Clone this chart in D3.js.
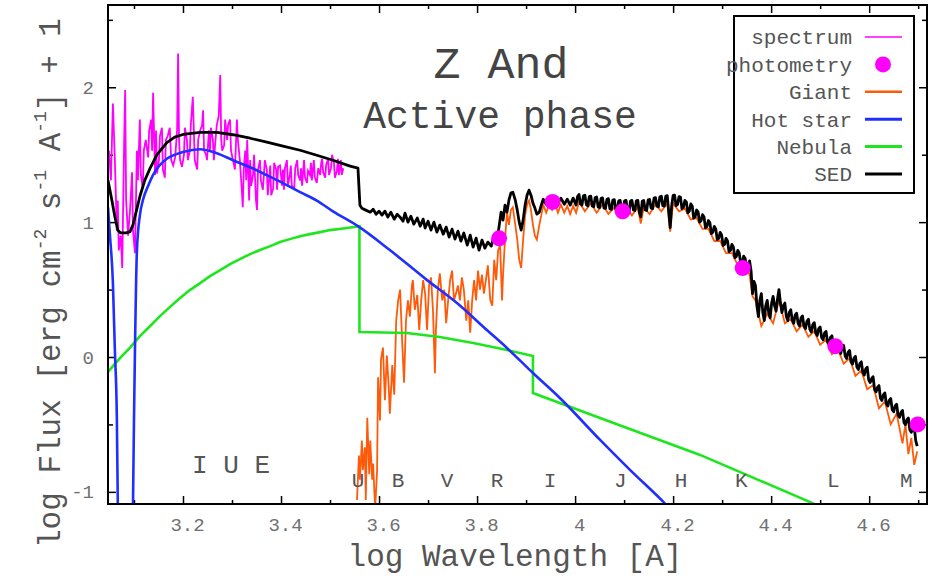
<!DOCTYPE html>
<html><head><meta charset="utf-8">
<script src="https://cdn.jsdelivr.net/npm/d3@7"></script>
<style>
body{margin:0;background:#fff}
svg{display:block}
text{font-family:"Liberation Mono","DejaVu Sans Mono",monospace}
</style>
</head><body>
<svg id="chart" width="935" height="585"></svg>
<script>
// ---------------- data ----------------
const xDomain = [3.047, 4.718];
const yDomain = [-1.09, 2.61];
const xTickValues = [3.2, 3.4, 3.6, 3.8, 4.0, 4.2, 4.4, 4.6];
const xTickLabels = ["3.2", "3.4", "3.6", "3.8", "4", "4.2", "4.4", "4.6"];
const xMinorTicks = [3.1, 3.3, 3.5, 3.7, 3.9, 4.1, 4.3, 4.5, 4.7];
const yTickValues = [-1, 0, 1, 2];
const yTickLabels = ["-1", "0", "1", "2"];
const yMinorTicks = [-0.5, 0.5, 1.5, 2.5];

const titleText = "Z And";
const subtitleText = "Active phase";
const xTitle = "log Wavelength [A]";

const bandNames = ["U", "B", "V", "R", "I", "J", "H", "K", "L", "M"];
const bandPos = [3.557, 3.639, 3.739, 3.841, 3.949, 4.092, 4.216, 4.339, 4.527, 4.676];
const iueLabel = "I U E";
const iuePos = 3.298;

const legendNames = ["spectrum", "photometry", "Giant", "Hot star", "Nebula", "SED"];

// photometry: [log lambda, log flux]
const photometry = [[3.845, 0.88], [3.954, 1.15], [4.097, 1.08], [4.342, 0.66], [4.531, 0.08], [4.699, -0.50]];

// IUE spectrum
const spectrum = [[3.049,1.53],[3.053,1.31],[3.057,1.88],[3.061,1.46],[3.065,0.94],[3.067,1.16],[3.069,0.79],[3.073,0.90],[3.076,0.66],[3.080,1.61],[3.082,1.98],[3.084,1.16],[3.088,0.90],[3.092,1.09],[3.096,1.37],[3.098,0.94],[3.102,0.77],[3.106,1.53],[3.108,1.31],[3.112,1.76],[3.114,1.35],[3.118,1.25],[3.120,1.53],[3.124,1.61],[3.129,1.48],[3.131,1.68],[3.135,1.76],[3.137,1.53],[3.139,1.96],[3.143,1.35],[3.145,1.68],[3.147,1.36],[3.151,1.46],[3.153,1.64],[3.157,1.70],[3.159,1.39],[3.163,1.33],[3.165,1.61],[3.169,1.64],[3.173,1.70],[3.176,1.46],[3.180,1.42],[3.184,1.48],[3.188,1.68],[3.190,2.25],[3.192,1.61],[3.194,1.46],[3.198,1.41],[3.202,1.50],[3.204,1.70],[3.208,1.61],[3.210,1.46],[3.214,1.53],[3.216,1.72],[3.220,1.93],[3.224,1.46],[3.229,1.39],[3.231,1.61],[3.235,1.68],[3.239,1.72],[3.241,1.83],[3.243,1.53],[3.247,1.50],[3.249,1.46],[3.253,1.68],[3.255,1.53],[3.257,1.70],[3.261,1.61],[3.263,1.46],[3.267,1.64],[3.269,1.72],[3.273,1.79],[3.276,2.09],[3.278,1.61],[3.280,1.53],[3.284,1.57],[3.286,1.76],[3.290,1.61],[3.292,1.72],[3.296,1.76],[3.298,1.53],[3.302,1.46],[3.306,1.39],[3.310,1.76],[3.312,1.61],[3.316,1.46],[3.320,1.24],[3.322,1.11],[3.324,1.39],[3.327,1.53],[3.329,1.31],[3.331,1.61],[3.335,1.16],[3.337,1.46],[3.339,1.27],[3.343,1.35],[3.345,1.50],[3.349,1.16],[3.351,1.09],[3.353,1.39],[3.357,1.46],[3.359,1.31],[3.363,1.24],[3.365,1.35],[3.367,1.46],[3.371,1.39],[3.373,1.20],[3.378,1.42],[3.380,1.20],[3.384,1.25],[3.386,1.44],[3.390,1.39],[3.392,1.24],[3.394,1.41],[3.398,1.42],[3.402,1.27],[3.404,1.39],[3.406,1.24],[3.408,1.40],[3.412,1.46],[3.414,1.27],[3.418,1.35],[3.420,1.42],[3.422,1.27],[3.427,1.25],[3.429,1.40],[3.433,1.46],[3.435,1.35],[3.439,1.31],[3.441,1.40],[3.443,1.27],[3.447,1.46],[3.449,1.33],[3.453,1.29],[3.455,1.38],[3.459,1.35],[3.461,1.44],[3.463,1.31],[3.467,1.46],[3.469,1.33],[3.473,1.29],[3.476,1.40],[3.480,1.35],[3.482,1.44],[3.484,1.47],[3.486,1.37],[3.490,1.33],[3.492,1.42],[3.496,1.47],[3.498,1.35],[3.502,1.40],[3.504,1.50],[3.508,1.44],[3.510,1.33],[3.514,1.38],[3.516,1.47],[3.518,1.35],[3.522,1.46],[3.524,1.35],[3.527,1.40]];

// hot star model
const hotStar = [[3.047,1.11],[3.051,0.90],[3.057,0.55],[3.061,0.05],[3.065,-0.44],[3.067,-1.09],[3.069,-1.6],[3.096,-1.6],[3.098,-1.09],[3.100,-0.47],[3.102,0.05],[3.106,0.79],[3.112,1.05],[3.118,1.16],[3.129,1.27],[3.139,1.35],[3.152,1.42],[3.167,1.47],[3.200,1.52],[3.235,1.54],[3.269,1.511],[3.302,1.459],[3.337,1.407],[3.371,1.348],[3.404,1.289],[3.439,1.222],[3.473,1.16],[3.506,1.08],[3.557,0.970],[3.622,0.793],[3.698,0.570],[3.759,0.400],[3.820,0.200],[3.861,0.067],[3.914,-0.119],[3.969,-0.304],[4.051,-0.615],[4.112,-0.837],[4.184,-1.089],[4.25,-1.35]];

// nebula model
const nebula = [[3.047,-0.11],[3.071,-0.01],[3.092,0.07],[3.112,0.155],[3.133,0.23],[3.153,0.303],[3.173,0.37],[3.194,0.437],[3.214,0.496],[3.235,0.548],[3.255,0.60],[3.276,0.644],[3.296,0.688],[3.316,0.726],[3.337,0.763],[3.357,0.793],[3.378,0.822],[3.398,0.852],[3.418,0.874],[3.439,0.896],[3.459,0.911],[3.480,0.926],[3.500,0.941],[3.531,0.955],[3.560,0.97],[3.560,0.185],[3.657,0.178],[3.724,0.148],[3.792,0.104],[3.861,0.052],[3.914,0.007],[3.914,-0.267],[4.051,-0.452],[4.255,-0.726],[4.488,-1.089],[4.60,-1.25]];

// cool giant model
const giant = [[3.555,-1.06],[3.559,-0.73],[3.561,-0.91],[3.565,-0.62],[3.567,-0.84],[3.571,-0.67],[3.573,-1.06],[3.576,-0.45],[3.580,-0.87],[3.582,-0.62],[3.586,-0.91],[3.588,-0.79],[3.592,-1.13],[3.596,-0.84],[3.598,-0.15],[3.602,-0.47],[3.604,-0.02],[3.608,0.07],[3.612,-0.32],[3.616,0.01],[3.620,-0.24],[3.622,-0.42],[3.627,-0.06],[3.631,-0.28],[3.635,0.27],[3.639,0.42],[3.643,0.50],[3.647,0.13],[3.651,-0.19],[3.655,0.27],[3.659,0.42],[3.663,0.30],[3.667,0.53],[3.669,0.57],[3.673,0.35],[3.678,0.46],[3.682,0.20],[3.686,0.42],[3.690,0.57],[3.694,0.47],[3.698,0.20],[3.702,0.53],[3.706,0.59],[3.710,0.35],[3.714,-0.12],[3.716,0.20],[3.720,0.50],[3.724,0.62],[3.729,0.42],[3.733,0.50],[3.737,0.25],[3.741,0.42],[3.745,0.57],[3.749,0.64],[3.753,0.42],[3.757,0.47],[3.761,0.53],[3.765,0.42],[3.769,0.59],[3.773,0.50],[3.778,0.27],[3.782,0.42],[3.786,0.18],[3.790,0.42],[3.794,0.57],[3.798,0.42],[3.802,0.64],[3.806,0.50],[3.810,0.61],[3.814,0.47],[3.818,0.57],[3.822,0.68],[3.827,0.42],[3.831,0.38],[3.835,0.72],[3.839,0.57],[3.843,0.79],[3.847,0.83],[3.851,0.42],[3.853,0.61],[3.857,0.87],[3.861,1.07],[3.865,0.98],[3.869,1.09],[3.873,1.11],[3.878,0.98],[3.882,0.87],[3.886,0.72],[3.890,0.66],[3.894,0.87],[3.898,1.05],[3.902,1.13],[3.906,1.16],[3.910,1.09],[3.914,0.98],[3.918,0.90],[3.922,0.87],[3.927,0.98],[3.931,1.05],[3.935,1.13],[3.941,1.07],[3.947,1.13],[3.953,1.09],[3.959,1.14],[3.965,1.07],[3.971,1.13],[3.978,1.07],[3.984,1.12],[3.990,1.06],[3.996,1.12],[4.002,1.07],
[4.008,1.15],[4.020,1.08],[4.032,1.14],[4.044,1.07],[4.056,1.13],[4.068,1.06],[4.080,1.11],[4.092,1.05],[4.104,1.11],[4.116,1.05],[4.128,1.11],[4.134,0.99],[4.140,1.11],[4.152,1.06],[4.164,1.13],[4.176,1.08],[4.188,1.14],[4.194,0.93],[4.200,1.14],[4.212,1.08],[4.224,1.10],[4.236,1.02],[4.248,1.03],[4.260,0.95],[4.272,0.95],[4.284,0.86],[4.296,0.86],[4.308,0.77],[4.320,0.77],[4.332,0.68],[4.344,0.69],[4.356,0.61],[4.362,0.45],[4.368,0.42],[4.380,0.23],[4.392,0.32],[4.404,0.25],[4.416,0.42],[4.428,0.25],[4.440,0.28],[4.452,0.19],[4.464,0.24],[4.476,0.15],[4.488,0.19],[4.500,0.09],[4.512,0.13],[4.524,0.02],[4.536,0.06],[4.548,-0.05],[4.560,-0.01],[4.572,-0.14],[4.584,-0.10],[4.596,-0.24],[4.608,-0.21],[4.620,-0.38],[4.632,-0.33],[4.644,-0.50],[4.656,-0.42],[4.668,-0.64],[4.674,-0.50],[4.680,-0.72],[4.686,-0.60],[4.692,-0.80],[4.698,-0.70]];

// total SED
const sed = [[3.047,1.31],[3.055,1.16],[3.061,1.04],[3.067,0.94],[3.073,0.92],[3.084,0.92],[3.092,0.93],[3.098,0.98],[3.102,1.04],[3.108,1.13],[3.112,1.19],[3.122,1.31],[3.133,1.40],[3.147,1.50],[3.167,1.59],[3.183,1.63],[3.200,1.65],[3.235,1.665],[3.269,1.665],[3.302,1.648],[3.337,1.622],[3.371,1.593],[3.404,1.563],[3.439,1.533],[3.473,1.496],[3.506,1.459],[3.541,1.415],[3.557,1.40],[3.561,1.126],
[3.565,1.103],[3.573,1.089],[3.582,1.074],[3.588,1.096],[3.594,1.059],[3.600,1.081],[3.606,1.052],[3.612,1.081],[3.618,1.037],[3.624,1.074],[3.631,1.022],[3.637,1.059],[3.643,1.037],[3.649,1.007],[3.653,1.067],[3.659,1.000],[3.665,1.044],[3.671,0.985],[3.678,1.030],[3.684,0.970],[3.690,1.022],[3.694,0.956],[3.700,1.007],[3.706,0.941],[3.712,1.000],[3.718,0.926],[3.724,0.978],[3.731,0.911],[3.737,0.963],[3.743,0.889],[3.749,0.948],[3.755,0.874],[3.761,0.933],[3.767,0.859],[3.773,0.919],[3.780,0.830],[3.786,0.904],[3.792,0.815],[3.798,0.881],[3.804,0.793],[3.810,0.867],[3.816,0.807],[3.822,0.852],[3.829,0.822],[3.835,0.904],[3.841,0.867],[3.845,0.970],[3.849,1.074],[3.853,1.015],[3.857,1.126],[3.861,1.074],[3.865,1.163],[3.869,1.215],[3.873,1.222],[3.878,1.163],[3.882,1.089],[3.886,1.000],[3.890,0.941],[3.894,1.015],[3.898,1.126],[3.902,1.200],[3.906,1.237],[3.910,1.200],[3.914,1.141],[3.918,1.104],[3.922,1.059],[3.927,1.074],[3.931,1.126],[3.935,1.170],[3.941,1.133],[3.947,1.178],[3.953,1.148],[3.959,1.185],[3.965,1.141],[3.971,1.178],[3.978,1.133],[3.984,1.170],[3.990,1.126],[3.996,1.178],[4.002,1.126],
[4.005,1.190],[4.008,1.205],[4.011,1.135],[4.014,1.127],[4.017,1.195],[4.020,1.199],[4.023,1.130],[4.026,1.121],[4.029,1.190],[4.032,1.193],[4.035,1.120],[4.038,1.115],[4.041,1.182],[4.044,1.186],[4.047,1.112],[4.050,1.108],[4.053,1.176],[4.056,1.180],[4.059,1.104],[4.062,1.102],[4.065,1.170],[4.068,1.174],[4.071,1.098],[4.074,1.095],[4.077,1.164],[4.080,1.167],[4.083,1.094],[4.086,1.089],[4.089,1.158],[4.092,1.161],[4.095,1.090],[4.098,1.086],[4.101,1.158],[4.104,1.161],[4.107,1.080],[4.110,1.070],[4.113,1.157],[4.116,1.161],[4.119,1.090],[4.122,1.086],[4.125,1.158],[4.128,1.161],[4.131,1.075],[4.134,1.040],[4.137,1.155],[4.140,1.161],[4.143,1.090],[4.146,1.086],[4.149,1.165],[4.152,1.168],[4.155,1.105],[4.158,1.100],[4.161,1.178],[4.164,1.182],[4.167,1.118],[4.170,1.114],[4.173,1.188],[4.176,1.192],[4.179,1.122],[4.182,1.119],[4.185,1.193],[4.188,1.196],[4.191,1.080],[4.194,0.960],[4.197,1.120],[4.200,1.198],[4.203,1.200],[4.206,1.123],[4.209,1.130],[4.212,1.189],[4.215,1.185],[4.218,1.101],[4.221,1.110],[4.224,1.161],[4.227,1.150],[4.230,1.070],[4.233,1.080],[4.236,1.135],[4.239,1.120],[4.242,1.030],[4.245,1.040],[4.248,1.090],[4.251,1.075],[4.254,1.000],[4.257,1.010],[4.260,1.055],[4.263,1.040],[4.266,0.958],[4.269,0.968],[4.272,1.012],[4.275,0.995],[4.278,0.915],[4.281,0.925],[4.284,0.968],[4.287,0.950],[4.290,0.871],[4.293,0.880],[4.296,0.924],[4.299,0.905],[4.302,0.827],[4.305,0.835],[4.308,0.880],[4.311,0.860],[4.314,0.782],[4.317,0.790],[4.320,0.835],[4.323,0.815],[4.326,0.737],[4.329,0.745],[4.332,0.790],[4.335,0.770],[4.338,0.690],[4.341,0.700],[4.344,0.748],[4.347,0.730],[4.350,0.655],[4.353,0.665],[4.356,0.712],[4.359,0.640],[4.362,0.470],[4.365,0.560],[4.368,0.530],[4.371,0.380],[4.374,0.300],[4.377,0.420],[4.380,0.470],[4.383,0.330],[4.386,0.270],[4.389,0.380],[4.392,0.420],[4.395,0.330],[4.398,0.290],[4.401,0.400],[4.404,0.450],[4.407,0.380],[4.410,0.340],[4.413,0.430],[4.416,0.500],[4.419,0.400],[4.422,0.330],[4.425,0.380],[4.428,0.400],[4.431,0.300],[4.434,0.270],[4.437,0.330],[4.440,0.350],[4.443,0.275],[4.446,0.250],[4.449,0.310],[4.452,0.325],[4.455,0.250],[4.458,0.230],[4.461,0.290],[4.464,0.305],[4.467,0.230],[4.470,0.210],[4.473,0.265],[4.476,0.280],[4.479,0.205],[4.482,0.185],[4.485,0.240],[4.488,0.255],[4.491,0.180],[4.494,0.160],[4.497,0.210],[4.500,0.222],[4.503,0.145],[4.506,0.128],[4.509,0.178],[4.512,0.190],[4.515,0.112],[4.518,0.096],[4.521,0.145],[4.524,0.157],[4.527,0.080],[4.530,0.063],[4.533,0.110],[4.536,0.122],[4.539,0.045],[4.542,0.026],[4.545,0.075],[4.548,0.086],[4.551,0.008],[4.554,-0.011],[4.557,0.035],[4.560,0.048],[4.563,-0.035],[4.566,-0.053],[4.569,-0.008],[4.572,0.005],[4.575,-0.075],[4.578,-0.093],[4.581,-0.048],[4.584,-0.036],[4.587,-0.115],[4.590,-0.134],[4.593,-0.088],[4.596,-0.075],[4.599,-0.170],[4.602,-0.190],[4.605,-0.160],[4.608,-0.146],[4.611,-0.240],[4.614,-0.258],[4.617,-0.225],[4.620,-0.212],[4.623,-0.305],[4.626,-0.322],[4.629,-0.280],[4.632,-0.266],[4.635,-0.345],[4.638,-0.364],[4.641,-0.322],[4.644,-0.308],[4.647,-0.390],[4.650,-0.406],[4.653,-0.362],[4.656,-0.350],[4.659,-0.430],[4.662,-0.447],[4.665,-0.410],[4.668,-0.396],[4.671,-0.485],[4.674,-0.502],[4.677,-0.465],[4.680,-0.452],[4.683,-0.540],[4.686,-0.558],[4.689,-0.530],[4.692,-0.520],[4.695,-0.620],[4.698,-0.660]];

// ---------------- chart ----------------
const colors = {spectrum:"#ff00ff", photometry:"#ff00ff", giant:"#ff5a0a", hot:"#1f2fff", nebula:"#1ee61e", sed:"#000000"};
const m = {left:108, right:927, top:5, bottom:504};
const svg = d3.select("#chart");
const x = d3.scaleLinear().domain(xDomain).range([m.left, m.right]);
const y = d3.scaleLinear().domain(yDomain).range([m.bottom, m.top]);

svg.append("defs").append("clipPath").attr("id","plotclip")
  .append("rect").attr("x",m.left).attr("y",m.top).attr("width",m.right-m.left).attr("height",m.bottom-m.top);

const labelColor = "#707070";

const gxB = svg.append("g").attr("transform",`translate(0,${m.bottom})`)
  .call(d3.axisBottom(x).tickValues(xTickValues).tickFormat((d,i)=>xTickLabels[i]).tickSize(-8).tickPadding(14));
const gxBm = svg.append("g").attr("transform",`translate(0,${m.bottom})`)
  .call(d3.axisBottom(x).tickValues(xMinorTicks).tickFormat("").tickSize(-4));
const gxT = svg.append("g").attr("transform",`translate(0,${m.top})`)
  .call(d3.axisTop(x).tickValues(xTickValues).tickFormat("").tickSize(-8));
const gxTm = svg.append("g").attr("transform",`translate(0,${m.top})`)
  .call(d3.axisTop(x).tickValues(xMinorTicks).tickFormat("").tickSize(-4));
const gyL = svg.append("g").attr("transform",`translate(${m.left},0)`)
  .call(d3.axisLeft(y).tickValues(yTickValues).tickFormat((d,i)=>yTickLabels[i]).tickSize(-8).tickPadding(14));
const gyLm = svg.append("g").attr("transform",`translate(${m.left},0)`)
  .call(d3.axisLeft(y).tickValues(yMinorTicks).tickFormat("").tickSize(-5));
const gyR = svg.append("g").attr("transform",`translate(${m.right},0)`)
  .call(d3.axisRight(y).tickValues(yTickValues).tickFormat("").tickSize(-8));
const gyRm = svg.append("g").attr("transform",`translate(${m.right},0)`)
  .call(d3.axisRight(y).tickValues(yMinorTicks).tickFormat("").tickSize(-5));
[gxB,gxBm,gxT,gxTm,gyL,gyLm,gyR,gyRm].forEach(g=>{
  g.select(".domain").remove();
  g.selectAll(".tick line").attr("stroke","#000").attr("stroke-width",1.5);
  g.selectAll(".tick text").attr("fill",labelColor).style("font-family","'Liberation Mono',monospace").style("font-size","19px");
});
gxB.selectAll(".tick text").attr("dx",4);

const plot = svg.append("g").attr("clip-path","url(#plotclip)");
const line = d3.line().x(d=>x(d[0])).y(d=>y(d[1]));
const smooth = d3.line().x(d=>x(d[0])).y(d=>y(d[1])).curve(d3.curveMonotoneX);

plot.append("path").datum(spectrum).attr("d",line).attr("fill","none").attr("stroke",colors.spectrum).attr("stroke-width",1.8);
plot.append("path").datum(giant).attr("d",line).attr("fill","none").attr("stroke",colors.giant).attr("stroke-width",1.8);
plot.append("path").datum(nebula).attr("d",line).attr("fill","none").attr("stroke",colors.nebula).attr("stroke-width",2.6);
plot.append("path").datum(hotStar).attr("d",smooth).attr("fill","none").attr("stroke",colors.hot).attr("stroke-width",2.6);
plot.append("path").datum(sed).attr("d",line).attr("fill","none").attr("stroke",colors.sed).attr("stroke-width",2.8).attr("stroke-linejoin","round");
plot.selectAll("circle.phot").data(photometry).join("circle").attr("class","phot")
  .attr("cx",d=>x(d[0])).attr("cy",d=>y(d[1])).attr("r",8).attr("fill",colors.photometry);

svg.append("rect").attr("x",m.left).attr("y",m.top).attr("width",m.right-m.left).attr("height",m.bottom-m.top)
  .attr("fill","none").attr("stroke","#000").attr("stroke-width",2);

const txtColor = "#555";
svg.append("text").attr("x",x(iuePos)).attr("y",473).attr("text-anchor","middle")
  .attr("fill",txtColor).style("font-size","26px").text(iueLabel);
svg.selectAll("text.band").data(bandNames).join("text").attr("class","band")
  .attr("x",(d,i)=>x(bandPos[i])).attr("y",487).attr("text-anchor","middle")
  .attr("fill",txtColor).style("font-size","21px").text(d=>d);

svg.append("text").attr("x",501).attr("y",78).attr("text-anchor","middle").attr("fill","#444").style("font-size","45px").text(titleText);
svg.append("text").attr("x",500).attr("y",128).attr("text-anchor","middle").attr("fill","#444").style("font-size","38px").text(subtitleText);

svg.append("text").attr("x",515).attr("y",566).attr("text-anchor","middle").attr("fill","#555").style("font-size","31px").text(xTitle);
const yt = svg.append("text").attr("transform","translate(60,548) rotate(-90)").attr("fill","#555").style("font-size","31px");
yt.append("tspan").text("log Flux [erg cm");
yt.append("tspan").attr("dy",-14).style("font-size","18px").text("-2");
yt.append("tspan").attr("dy",14).text(" s");
yt.append("tspan").attr("dy",-14).style("font-size","18px").text("-1");
yt.append("tspan").attr("dy",14).text(" A");
yt.append("tspan").attr("dy",-14).style("font-size","18px").text("-1");
yt.append("tspan").attr("dy",14).text("] + 1");

const lg = svg.append("g");
lg.append("rect").attr("x",734).attr("y",16).attr("width",180).attr("height",177).attr("fill","#fff").attr("stroke","#000").attr("stroke-width",2);
const rowY = i => 37 + i*27.4;
legendNames.forEach((name,i)=>{
  lg.append("text").attr("x",852).attr("y",rowY(i)).attr("dy","0.35em").attr("text-anchor","end")
    .attr("fill","#555").style("font-size","21px").text(name);
});
const legColors = [colors.spectrum, null, colors.giant, colors.hot, colors.nebula, colors.sed];
const legWidths = [1.6, 0, 2.5, 3, 3, 3];
legColors.forEach((c,i)=>{
  if(c) lg.append("line").attr("x1",865).attr("x2",902).attr("y1",rowY(i)).attr("y2",rowY(i)).attr("stroke",c).attr("stroke-width",legWidths[i]);
});
lg.append("circle").attr("cx",883).attr("cy",rowY(1)).attr("r",8).attr("fill",colors.photometry);
</script>
</body></html>
